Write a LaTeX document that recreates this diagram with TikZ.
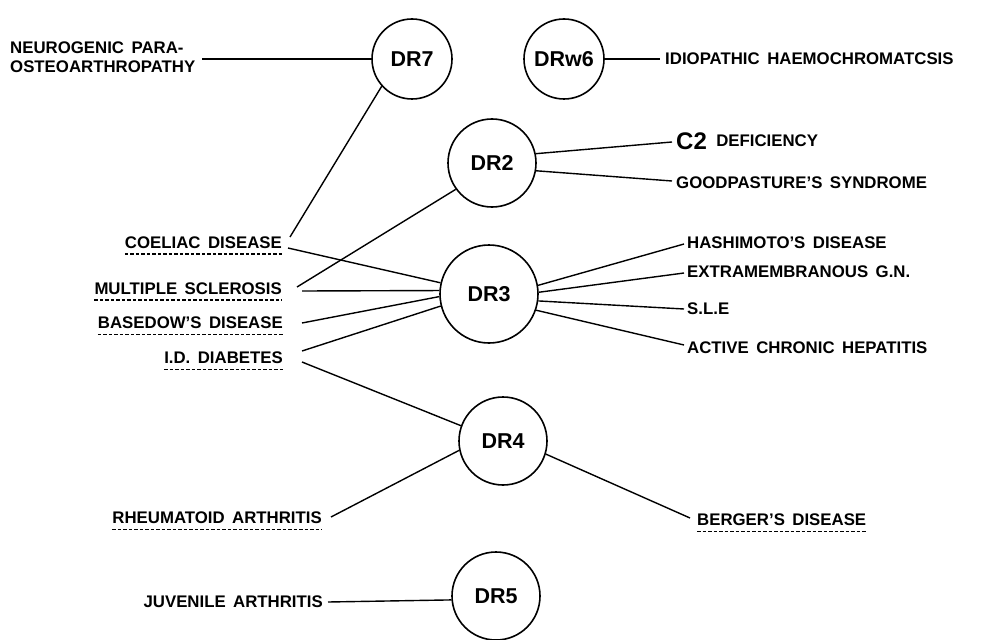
\documentclass[tikz,border=0pt]{standalone}
\usepackage{fontspec}
\setmainfont{Liberation Sans}[WordSpace=1.6]
\begin{document}
\begin{tikzpicture}[x=1pt,y=-1pt,
  dr/.style={circle, draw, line width=1.6pt, minimum size=#1, inner sep=0pt,
    font=\fontsize{21.5}{21.5}\selectfont\bfseries},
  lbl/.style={inner sep=0pt, font=\fontsize{16.8}{16.8}\selectfont\bfseries},
  conn/.style={line width=1.4pt},
  uline/.style={line width=1.3pt, dash pattern=on 3.5pt off 2pt}]
\useasboundingbox[fill=white] (0,0) rectangle (981,639);

% HLA circles
\node[dr=80pt] (dr7) at (412,59) {DR7};
\node[dr=80pt] (drw6) at (564,59) {DRw6};
\node[dr=88pt] (dr2) at (492,163) {DR2};
\node[dr=98pt] (dr3) at (489,294) {DR3};
\node[dr=88pt] (dr4) at (503,441) {DR4};
\node[dr=88pt] (dr5) at (496,596) {DR5};

% left labels
\node[lbl, anchor=west, align=left, font=\fontsize{16.8}{19}\selectfont\bfseries] (neuro) at (10,57) {NEUROGENIC PARA-\\OSTEOARTHROPATHY};
\node[lbl, anchor=east] (coel) at (282,243) {COELIAC DISEASE};
\node[lbl, anchor=east] (ms) at (282,289) {MULTIPLE SCLEROSIS};
\node[lbl, anchor=east] (base) at (283,323) {BASEDOW'S DISEASE};
\node[lbl, anchor=east] (idd) at (283,358) {I.D. DIABETES};
\node[lbl, anchor=east] (rheu) at (322,518) {RHEUMATOID ARTHRITIS};
\node[lbl, anchor=east] (juv) at (323,602) {JUVENILE ARTHRITIS};

% right labels
\node[lbl, anchor=west] (idio) at (665,59) {IDIOPATHIC HAEMOCHROMATCSIS};
\node[lbl, anchor=west, font=\fontsize{24}{24}\selectfont\bfseries] (c2) at (676,141) {C2};
\node[lbl, anchor=west] (defi) at ([xshift=9pt]c2.east) {DEFICIENCY};
\node[lbl, anchor=west] (good) at (676,183) {GOODPASTURE'S SYNDROME};
\node[lbl, anchor=west] (hash) at (687,243) {HASHIMOTO'S DISEASE};
\node[lbl, anchor=west] (extra) at (687,272) {EXTRAMEMBRANOUS G.N.};
\node[lbl, anchor=west] (sle) at (687,309) {S.L.E};
\node[lbl, anchor=west] (ach) at (687,348) {ACTIVE CHRONIC HEPATITIS};
\node[lbl, anchor=west] (berg) at (697,520) {BERGER'S DISEASE};

% dashed underlines
\foreach \n in {coel,ms,base,idd,rheu,berg}{
  \draw[uline] ([yshift=-5pt]\n.south west) -- ([yshift=-5pt]\n.south east);
}

% connector end points near labels
\coordinate (pNeuro) at (202,59);
\coordinate (pIdio) at (660,59);
\coordinate (pC2) at (672,142);
\coordinate (pGood) at (672,181);
\coordinate (pHash) at (684,244);
\coordinate (pExtra) at (684,273);
\coordinate (pSle) at (684,309);
\coordinate (pAch) at (684,345);
\coordinate (pCoelA) at (290,237);
\coordinate (pCoelB) at (288,248);
\coordinate (pMsA) at (297,287);
\coordinate (pMsB) at (302,291);
\coordinate (pBase) at (302,323);
\coordinate (pIddA) at (302,351);
\coordinate (pIddB) at (302,362);
\coordinate (pRheu) at (331,517);
\coordinate (pBerg) at (690,518);
\coordinate (pJuv) at (328,602);

% connectors
\draw[conn] (pNeuro) -- (dr7.west);
\draw[conn] (drw6.east) -- (pIdio);
\draw[conn] (dr2.12) -- (pC2);
\draw[conn] (dr2.-10) -- (pGood);
\draw[conn] (dr3.10) -- (pHash);
\draw[conn] (dr3.2) -- (pExtra);
\draw[conn] (dr3.-8) -- (pSle);
\draw[conn] (dr3.-19) -- (pAch);
\draw[conn] (pCoelA) -- (dr7.222);
\draw[conn] (pCoelB) -- (dr3.167);
\draw[conn] (pMsA) -- (dr2.216);
\draw[conn] (pMsB) -- (dr3.176);
\draw[conn] (pBase) -- (dr3.183);
\draw[conn] (pIddA) -- (dr3.194);
\draw[conn] (pIddB) -- (dr4.160);
\draw[conn] (pRheu) -- (dr4.192);
\draw[conn] (dr4.-17) -- (pBerg);
\draw[conn] (pJuv) -- (dr5.185);
\end{tikzpicture}
\end{document}
